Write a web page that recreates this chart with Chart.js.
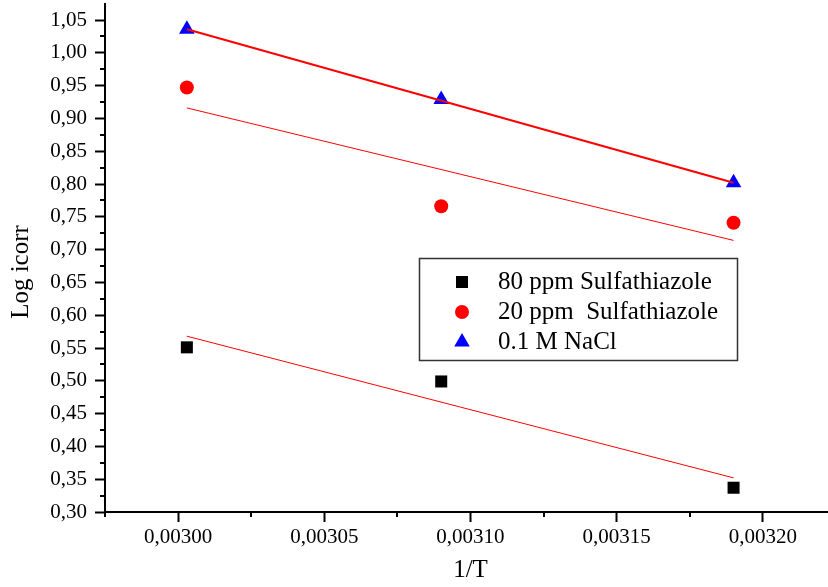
<!DOCTYPE html>
<html><head><meta charset="utf-8">
<script src="https://cdn.jsdelivr.net/npm/chart.js@4"></script>
<style>html,body{margin:0;padding:0;background:#fff;} #wrap{width:828px;height:587px;position:relative;}</style>
</head><body><div id="wrap"><canvas id="c" width="828" height="587"></canvas></div>
<script>
// ---- data ----
const xValues = [0.003003, 0.00309, 0.00319];          // 1/T
const logI80 = [0.551, 0.499, 0.337];                  // 80 ppm Sulfathiazole
const logI20 = [0.947, 0.766, 0.741];                  // 20 ppm Sulfathiazole
const logINaCl = [1.036, 0.929, 0.802];                // 0.1 M NaCl
const fitX = [0.003003, 0.00319];                      // linear fit end points (x)
const fit80 = [0.568, 0.352];
const fit20 = [0.916, 0.714];
const fitNaCl = [1.036, 0.802];
const seriesLabels = ['80 ppm Sulfathiazole', '20 ppm  Sulfathiazole', '0.1 M NaCl'];
const xTitle = '1/T';
const yTitle = 'Log icorr';
const xRange = [0.002975, 0.0032223];
const yRange = [0.30, 1.0744];
const xStep = 0.00005;
const yStep = 0.05;

const FONT = '"Liberation Serif", "Times New Roman", serif';
const pts = (xs, ys) => xs.map((x, i) => ({x: x, y: ys[i]}));

const markerDs = (label, ys, style, color, r) => ({
  label: label, data: pts(xValues, ys), showLine: false, order: 1,
  pointStyle: style, pointRadius: r, pointHoverRadius: r,
  backgroundColor: color, borderColor: color, pointBorderWidth: 0, isMarker: true
});
const fitDs = (ys, w) => ({
  label: '', data: pts(fitX, ys), showLine: true, order: 0,
  borderColor: '#ff0000', borderWidth: w, pointRadius: 0, pointHoverRadius: 0, fill: false
});

const decor = {
  id: 'decor',
  afterDraw(chart) {
    const ctx = chart.ctx, xs = chart.scales.x, ys = chart.scales.y;
    ctx.save();
    // minor ticks
    ctx.strokeStyle = '#000'; ctx.lineWidth = 2;
    const minors = (scale, step) => {
      const out = [];
      scale.ticks.forEach(t => {
        [t.value - step / 2, t.value + step / 2].forEach(v => {
          if (v >= scale.min - 1e-12 && v <= scale.max + 1e-12 && !out.some(m => Math.abs(m - v) < step / 1000)) out.push(v);
        });
      });
      return out;
    };
    ctx.beginPath();
    minors(ys, yStep).forEach(v => { const p = Math.round(ys.getPixelForValue(v)); ctx.moveTo(ys.right - 5, p); ctx.lineTo(ys.right, p); });
    minors(xs, xStep).forEach(v => { const p = Math.round(xs.getPixelForValue(v)); ctx.moveTo(p, xs.top); ctx.lineTo(p, xs.top + 5); });
    ctx.stroke();
    // axis titles
    ctx.fillStyle = '#000'; ctx.textAlign = 'center'; ctx.textBaseline = 'middle';
    ctx.font = '25px ' + FONT;
    const ca = chart.chartArea;
    ctx.fillText(xTitle, (ca.left + ca.right) / 2 + 4, 570);
    ctx.save();
    ctx.translate(21, (ca.top + ca.bottom) / 2 + 14);
    ctx.rotate(-Math.PI / 2);
    ctx.fillText(yTitle, 0, 0);
    ctx.restore();
    // legend box
    const bx = 419.5, by = 258.5, bw = 318, bh = 102;
    ctx.fillStyle = '#fff'; ctx.fillRect(bx, by, bw, bh);
    ctx.strokeStyle = '#333'; ctx.lineWidth = 1.5; ctx.strokeRect(bx, by, bw, bh);
    ctx.font = '25px ' + FONT; ctx.textAlign = 'left'; ctx.textBaseline = 'middle';
    let row = 0;
    chart.data.datasets.forEach(ds => {
      if (!ds.isMarker) return;
      const y = 282 + row * 30;
      ctx.fillStyle = ds.backgroundColor; ctx.strokeStyle = ds.borderColor;
      Chart.helpers.drawPoint(ctx, {pointStyle: ds.pointStyle, radius: ds.pointRadius, rotation: 0, borderWidth: 0}, 462, y);
      ctx.fillStyle = '#000';
      ctx.fillText(ds.label, 498, y);
      row++;
    });
    ctx.restore();
  }
};

new Chart(document.getElementById('c'), {
  type: 'scatter',
  data: {
    datasets: [
      markerDs(seriesLabels[0], logI80, 'rect', '#000000', 8.5),
      markerDs(seriesLabels[1], logI20, 'circle', '#ff0000', 7),
      markerDs(seriesLabels[2], logINaCl, 'triangle', '#0000ff', 9),
      fitDs(fit80, 1),
      fitDs(fit20, 1),
      fitDs(fitNaCl, 2)
    ]
  },
  options: {
    responsive: false, animation: false, devicePixelRatio: 1,
    layout: {autoPadding: false, padding: {top: 4, right: 0, left: 0, bottom: 0}},
    plugins: {legend: {display: false}, tooltip: {enabled: false}},
    scales: {
      x: {
        type: 'linear', min: xRange[0], max: xRange[1],
        afterFit: s => { s.height = 75; s.paddingLeft = 0; s.paddingRight = 0; },
        border: {display: true, color: '#000', width: 2},
        grid: {drawOnChartArea: false, drawTicks: true, tickLength: 10, tickWidth: 2, tickColor: '#000'},
        ticks: {stepSize: xStep, includeBounds: false, maxTicksLimit: 1000, autoSkip: false, maxRotation: 0,
          color: '#000', padding: 3, font: {family: FONT, size: 21},
          callback: v => v.toFixed(5).replace('.', ',')}
      },
      y: {
        type: 'linear', min: yRange[0], max: yRange[1],
        afterFit: s => { s.width = 105; s.paddingTop = 0; s.paddingBottom = 0; },
        border: {display: true, color: '#000', width: 2},
        grid: {drawOnChartArea: false, drawTicks: true, tickLength: 10, tickWidth: 2, tickColor: '#000'},
        ticks: {stepSize: yStep, includeBounds: false, maxTicksLimit: 1000, autoSkip: false,
          color: '#000', padding: 8, font: {family: FONT, size: 21},
          callback: v => v.toFixed(2).replace('.', ',')}
      }
    }
  },
  plugins: [decor]
});
</script>
</body></html>
